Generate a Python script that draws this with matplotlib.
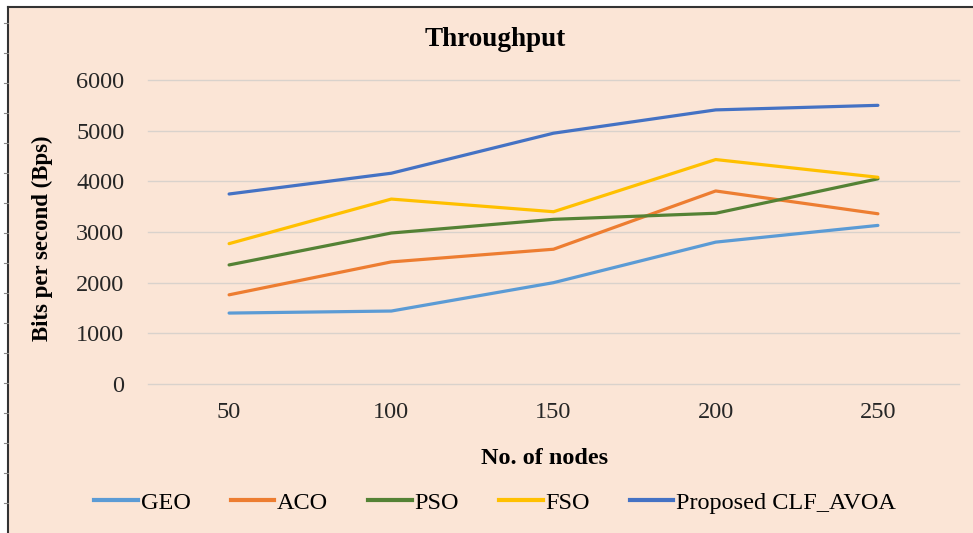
import matplotlib.pyplot as plt
from matplotlib.lines import Line2D
from matplotlib.patches import Rectangle

# Throughput vs number of nodes
nodes = [50, 100, 150, 200, 250]
geo = [1400, 1440, 2000, 2800, 3130]
aco = [1760, 2410, 2660, 3810, 3360]
pso = [2350, 2980, 3250, 3370, 4050]
fso = [2770, 3650, 3400, 4430, 4080]
clf_avoa = [3750, 4160, 4950, 5410, 5500]

names = ['GEO', 'ACO', 'PSO', 'FSO', 'Proposed CLF_AVOA']
colors = ['#5B9BD5', '#ED7D31', '#548235', '#FFC000', '#4472C4']
bg = '#FBE5D6'

plt.rcParams['font.family'] = ['Liberation Serif', 'DejaVu Serif']

W, H = 973, 533
fig = plt.figure(figsize=(W / 100, H / 100), dpi=100, facecolor=bg)
ax = fig.add_axes([148 / W, 1 - 384 / H, (959 - 148) / W, (384 - 80) / H])
ax.set_facecolor(bg)

x = range(1, len(nodes) + 1)
for vals, name, c in zip([geo, aco, pso, fso, clf_avoa], names, colors):
    ax.plot(x, vals, color=c, linewidth=2.3, label=name, solid_capstyle='round')

ax.set_xlim(0.5, 5.5)
ax.set_ylim(0, 6000)
ax.set_yticks(range(0, 6001, 1000))
ax.set_xticks(list(x))
ax.set_xticklabels([str(n) for n in nodes])
ax.grid(axis='y', color='#D9D2CC', linewidth=1)
for g in ax.get_ygridlines():
    g.set_clip_on(False)
ax.set_axisbelow(True)
for s in ax.spines.values():
    s.set_visible(False)
ax.tick_params(length=0, labelsize=17.5, colors='#262626')
ax.tick_params(axis='y', pad=17)
ax.tick_params(axis='x', pad=13)

fig.text(495 / W, 1 - 40 / H, 'Throughput', ha='center', va='center',
         fontsize=19.5, fontweight='bold')
fig.text(545 / W, 1 - 458 / H, 'No. of nodes', ha='center', va='center',
         fontsize=17.5, fontweight='bold')
fig.text(42 / W, 1 - 238 / H, 'Bits per second (Bps)', ha='center', va='center',
         rotation=90, fontsize=16.5, fontweight='bold')

handles = [Line2D([], [], color=c, linewidth=3) for c in colors]
fig.legend(handles, names, loc='center', bbox_to_anchor=(495 / W, 1 - 503 / H),
           ncol=5, frameon=False, fontsize=17.5, handlelength=1.8,
           handletextpad=0.1, columnspacing=1.65)

# page edge outside the chart frame
fig.patches.append(Rectangle((0, 0), 8 / W, 1, transform=fig.transFigure,
                             facecolor='white', edgecolor='none'))
fig.patches.append(Rectangle((0, 1 - 7 / H), 1, 7 / H, transform=fig.transFigure,
                             facecolor='white', edgecolor='none'))
fig.add_artist(Line2D([8 / W, 8 / W], [0, 1 - 7 / H], color='#333333',
                      linewidth=1.5, transform=fig.transFigure))
fig.add_artist(Line2D([8 / W, 1], [1 - 7 / H, 1 - 7 / H], color='#333333',
                      linewidth=1.5, transform=fig.transFigure))
for yp in range(23, H, 30):
    fig.add_artist(Line2D([4 / W, 8 / W], [1 - yp / H, 1 - yp / H],
                          color='#888888', linewidth=0.8,
                          transform=fig.transFigure))

fig.savefig('out.png', dpi=100, facecolor=bg)
